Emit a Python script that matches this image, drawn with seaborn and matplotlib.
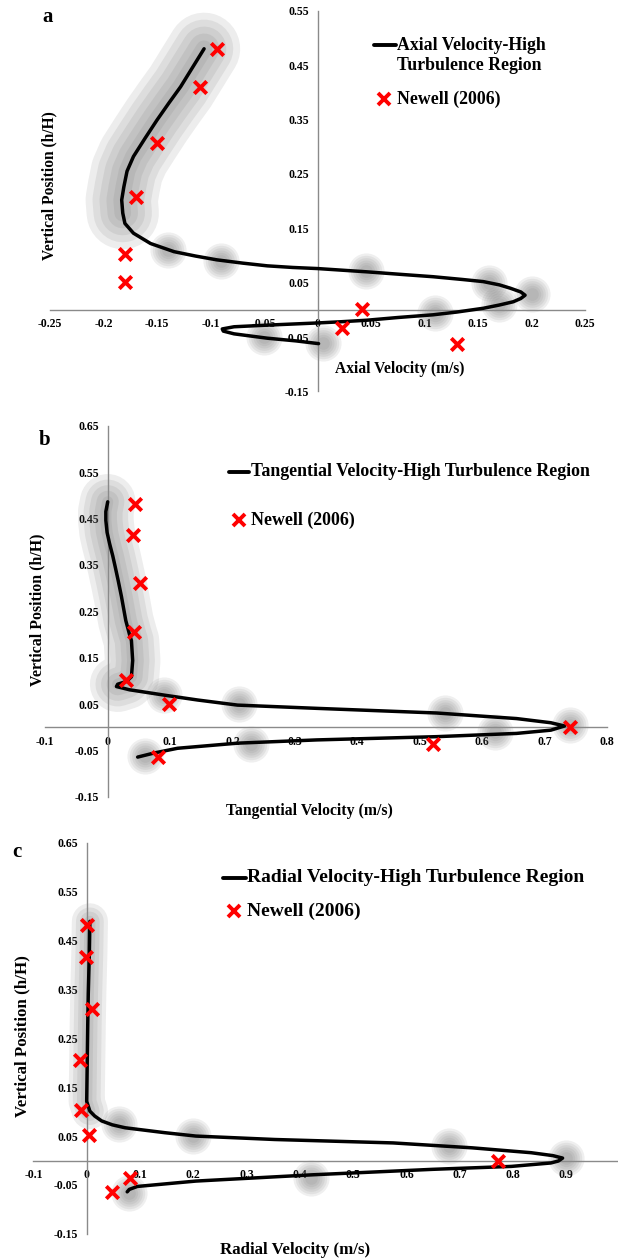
import numpy as np
import matplotlib
matplotlib.use("Agg")
import matplotlib.pyplot as plt
from matplotlib.lines import Line2D
import seaborn as sns

# ---------------- data ----------------
# (a) axial velocity profile
axial_v = [-0.106, -0.117, -0.128, -0.139, -0.150, -0.161, -0.172, -0.178, -0.181, -0.183,
           -0.182, -0.180, -0.172, -0.156, -0.134, -0.114, -0.094, -0.070, -0.047, -0.023,
           0.000, 0.046, 0.080, 0.108, 0.135, 0.155, 0.170, 0.180, 0.190, 0.194,
           0.190, 0.183, 0.170, 0.155, 0.130, 0.108, 0.075, 0.046, 0.020, 0.000,
           -0.047, -0.078, -0.089, -0.088, -0.078, -0.047, -0.020, 0.001]
axial_h = [0.480, 0.445, 0.410, 0.380, 0.349, 0.316, 0.282, 0.255, 0.226, 0.202,
           0.178, 0.159, 0.141, 0.122, 0.107, 0.099, 0.092, 0.086, 0.081, 0.078,
           0.076, 0.070, 0.065, 0.061, 0.056, 0.052, 0.046, 0.040, 0.033, 0.027,
           0.021, 0.015, 0.009, 0.003, -0.004, -0.009, -0.014, -0.019, -0.022, -0.024,
           -0.028, -0.031, -0.035, -0.039, -0.044, -0.052, -0.057, -0.062]
newell_axial = [-0.094, -0.110, -0.150, -0.170, -0.180, -0.180, 0.042, 0.023, 0.130]
newell_axial_h = [0.479, 0.410, 0.306, 0.208, 0.103, 0.052, 0.001, -0.033, -0.063]

# (b) tangential velocity profile
tang_v = [0.000, -0.003, -0.003, -0.001, 0.003, 0.008, 0.012, 0.017, 0.022, 0.029,
          0.035, 0.038, 0.040, 0.038, 0.030, 0.016, 0.014, 0.035, 0.093, 0.144,
          0.208, 0.335, 0.527, 0.655, 0.710, 0.732, 0.710, 0.655, 0.527, 0.335,
          0.208, 0.112, 0.075, 0.048]
tang_h = [0.486, 0.465, 0.446, 0.420, 0.396, 0.370, 0.346, 0.315, 0.282, 0.230,
          0.200, 0.187, 0.144, 0.109, 0.099, 0.093, 0.088, 0.081, 0.069, 0.059,
          0.048, 0.041, 0.031, 0.019, 0.010, 0.003, -0.006, -0.013, -0.020, -0.027,
          -0.034, -0.045, -0.055, -0.064]
newell_tang = [0.044, 0.041, 0.052, 0.042, 0.030, 0.098, 0.741, 0.521, 0.080]
newell_tang_h = [0.482, 0.414, 0.311, 0.205, 0.103, 0.051, 0.001, -0.036, -0.063]

# (c) radial velocity profile
rad_v = [0.006, 0.005, 0.003, 0.002, 0.001, 0.000, 0.006, 0.015, 0.028, 0.048,
         0.072, 0.146, 0.205, 0.353, 0.575, 0.723, 0.834, 0.875, 0.893, 0.885,
         0.871, 0.797, 0.649, 0.427, 0.205, 0.095, 0.080, 0.076]
rad_h = [0.489, 0.424, 0.342, 0.280, 0.200, 0.121, 0.101, 0.091, 0.081, 0.073,
         0.067, 0.057, 0.050, 0.043, 0.036, 0.026, 0.016, 0.010, 0.005, -0.001,
         -0.005, -0.012, -0.018, -0.029, -0.042, -0.053, -0.059, -0.064]
newell_rad = [0.001, -0.001, 0.010, -0.013, -0.010, 0.004, 0.771, 0.082, 0.047]
newell_rad_h = [0.482, 0.417, 0.309, 0.205, 0.104, 0.053, 0.000, -0.035, -0.064]

# soft grey smudges lying along the curves
smudge_a_x = [-0.140, -0.090, 0.045, 0.160, 0.200, 0.170, 0.110, -0.050, 0.005]
smudge_a_y = [0.110, 0.090, 0.072, 0.050, 0.030, 0.010, -0.005, -0.050, -0.060]
smudge_b_x = [0.090, 0.210, 0.540, 0.740, 0.620, 0.230, 0.060]
smudge_b_y = [0.070, 0.050, 0.030, 0.005, -0.010, -0.035, -0.062]
smudge_c_x = [0.060, 0.200, 0.680, 0.900, 0.420, 0.080]
smudge_c_y = [0.075, 0.050, 0.030, 0.005, -0.035, -0.066]

axial_ticks_x = [-0.25, -0.2, -0.15, -0.1, -0.05, 0, 0.05, 0.1, 0.15, 0.2, 0.25]
tang_ticks_x = [-0.1, 0, 0.1, 0.2, 0.3, 0.4, 0.5, 0.6, 0.7, 0.8]
rad_ticks_x = [-0.1, 0, 0.1, 0.2, 0.3, 0.4, 0.5, 0.6, 0.7, 0.8, 0.9]
ticks_y_a = [-0.15, -0.05, 0.05, 0.15, 0.25, 0.35, 0.45, 0.55]
ticks_y_bc = [-0.15, -0.05, 0.05, 0.15, 0.25, 0.35, 0.45, 0.55, 0.65]

# ---------------- figure ----------------
sns.set_theme(style="white")
plt.rcParams['font.family'] = ['Liberation Serif', 'DejaVu Serif']
plt.rcParams['font.weight'] = 'bold'
plt.rcParams['text.color'] = 'black'
plt.rcParams['xtick.color'] = 'black'
plt.rcParams['ytick.color'] = 'black'

W, H = 618, 1260
fig = plt.figure(figsize=(W / 100, H / 100), dpi=100)
fig.patch.set_facecolor('white')

AXIS_GREY = '#8a8a8a'


def px_axes(left, top, right, bottom):
    return fig.add_axes([left / W, 1 - bottom / H, (right - left) / W, (bottom - top) / H])


def fmt(v):
    return f"{round(v, 2):g}"


def style(ax, xlim, ylim, xticks, yticks):
    ax.set_xlim(*xlim)
    ax.set_ylim(*ylim)
    ax.patch.set_alpha(0)
    for s in ['top', 'right']:
        ax.spines[s].set_visible(False)
    for s in ['left', 'bottom']:
        ax.spines[s].set_position(('data', 0))
        ax.spines[s].set_color(AXIS_GREY)
        ax.spines[s].set_linewidth(1.0)
    ax.set_xticks(xticks)
    ax.set_xticklabels([fmt(v) for v in xticks])
    ax.set_yticks(yticks)
    ax.set_yticklabels([fmt(v) for v in yticks])
    ax.tick_params(axis='both', direction='out', length=4, width=1,
                   color=AXIS_GREY, labelsize=8.5, pad=2)
    ax.set_xlabel('')
    ax.set_ylabel('')


def shade_band(ax, x, y, widths):
    for w in widths:
        ax.plot(x, y, color='0.42', lw=w, alpha=0.12, solid_capstyle='round', zorder=1)


def smudges(ax, x, y, size=26):
    for k in np.linspace(1.0, 0.35, 6):
        ax.scatter(x, y, s=(size * k) ** 2, color='0.45', alpha=0.11,
                   linewidths=0, zorder=1)


def draw_panel(ax, vx, vy, nx, ny):
    sns.lineplot(x=vx, y=vy, sort=False, estimator=None, color='black',
                 linewidth=2.5, ax=ax, zorder=3)
    sns.scatterplot(x=nx, y=ny, marker='x', s=80, color='#ff0000',
                    linewidth=2.8, ax=ax, zorder=4)


# ---- panel a ----
ax_a = px_axes(50, 10.7, 585, 391.5)
shade_band(ax_a, axial_v[:11], axial_h[:11], (52, 42, 32, 22, 12))
smudges(ax_a, smudge_a_x, smudge_a_y)
draw_panel(ax_a, axial_v, axial_h, newell_axial, newell_axial_h)
style(ax_a, (-0.25, 0.25), (-0.15, 0.55), axial_ticks_x, ticks_y_a)

# ---- panel b ----
ax_b = px_axes(45.3, 425.7, 607, 797)
shade_band(ax_b, tang_v[:16], tang_h[:16], (40, 32, 24, 16, 8))
smudges(ax_b, smudge_b_x, smudge_b_y)
draw_panel(ax_b, tang_v, tang_h, newell_tang, newell_tang_h)
style(ax_b, (-0.1, 0.8), (-0.15, 0.65), tang_ticks_x, ticks_y_bc)

# ---- panel c ----
ax_c = px_axes(33.4, 842.6, 618, 1233.9)
shade_band(ax_c, rad_v[:7], rad_h[:7], (26, 20, 14, 8))
smudges(ax_c, smudge_c_x, smudge_c_y)
draw_panel(ax_c, rad_v, rad_h, newell_rad, newell_rad_h)
style(ax_c, (-0.1, 0.997), (-0.15, 0.65), rad_ticks_x, ticks_y_bc)


# ---------------- text ----------------
def ftext(x, y, s, **kw):
    fig.text(x / W, 1 - y / H, s, **kw)


def legend_entry_line(x0, x1, y):
    fig.add_artist(Line2D([x0 / W, x1 / W], [1 - y / H, 1 - y / H],
                          color='black', lw=2.8, transform=fig.transFigure))


def legend_entry_marker(x, y):
    fig.add_artist(Line2D([x / W], [1 - y / H], marker='x', markersize=9,
                          markeredgewidth=2.8, color='#ff0000', linestyle='none',
                          transform=fig.transFigure))


def leg(size):
    return dict(fontsize=size, fontweight='bold', va='center', ha='left')


def ylab(size):
    return dict(fontsize=size, fontweight='bold', rotation=90, va='center', ha='center')


def xlab(size):
    return dict(fontsize=size, fontweight='bold', va='center', ha='center')


LET = dict(fontsize=15, fontweight='bold', va='center', ha='left')

# panel a
ftext(42, 17, 'a', **LET)
ftext(49, 186, 'Vertical Position (h/H)', **ylab(11.2))
ftext(400, 369, 'Axial Velocity (m/s)', **xlab(11.2))
legend_entry_line(374, 396, 45)
ftext(397, 45, 'Axial Velocity-High', **leg(12.8))
ftext(397, 66, 'Turbulence Region', **leg(12.8))
legend_entry_marker(384, 99)
ftext(397, 99, 'Newell (2006)', **leg(12.8))

# panel b
ftext(39, 440, 'b', **LET)
ftext(37, 610, 'Vertical Position (h/H)', **ylab(11.4))
ftext(309, 811, 'Tangential Velocity (m/s)', **xlab(11.3))
legend_entry_line(229, 249, 472)
ftext(251, 472, 'Tangential Velocity-High Turbulence Region', **leg(12.9))
legend_entry_marker(239, 520)
ftext(251, 520, 'Newell (2006)', **leg(12.9))

# panel c
ftext(12, 852, 'c', **LET)
ftext(22, 1036, 'Vertical Position (h/H)', **ylab(12.2))
ftext(295, 1250, 'Radial Velocity (m/s)', **xlab(12.2))
legend_entry_line(223, 246, 878)
ftext(247, 878, 'Radial Velocity-High Turbulence Region', **leg(14))
legend_entry_marker(234, 911)
ftext(247, 911, 'Newell (2006)', **leg(14))

fig.savefig('out.png', dpi=100, facecolor='white')
